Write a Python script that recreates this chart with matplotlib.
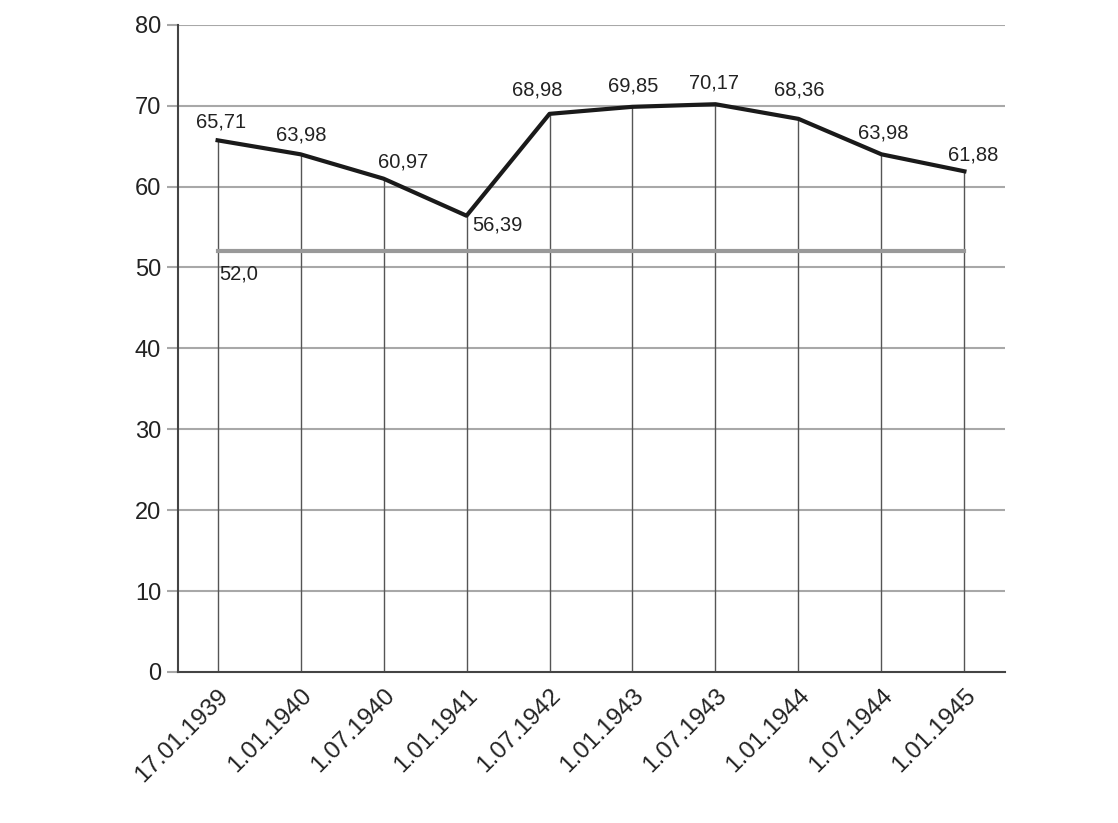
import matplotlib.pyplot as plt

plt.rcParams['font.family'] = ['Liberation Sans', 'DejaVu Sans']

# ---------- data ----------
dates = ["17.01.1939", "1.01.1940", "1.07.1940", "1.01.1941", "1.07.1942",
         "1.01.1943", "1.07.1943", "1.01.1944", "1.07.1944", "1.01.1945"]
values = [65.71, 63.98, 60.97, 56.39, 68.98, 69.85, 70.17, 68.36, 63.98, 61.88]
level = 52.0

# label offsets in pixels (dx, dy) relative to each point
offsets = [(3, 9), (1, 10), (20, 7), (31, -19), (-12, 14),
           (1, 11), (-1, 12), (1, 19), (2, 12), (9, 7)]

# ---------- plot ----------
fig = plt.figure(figsize=(11.18, 8.23), dpi=100)
ax = fig.add_axes([0.159, 0.1835, 0.740, 0.7865])

x = list(range(len(dates)))

# horizontal grid
for yv in range(10, 81, 10):
    ax.axhline(yv, color="#a8a8a8", lw=1.5, zorder=1)

# drop lines from 0 to each point
ax.vlines(x, 0, values, color="#555555", lw=1.0, zorder=2)

# reference level
ax.plot([x[0], x[-1]], [level, level], color="#999999", lw=3, zorder=3)
ax.annotate(f"{level:.1f}".replace(".", ","), (x[0], level),
            xytext=(2 * 0.72, -13 * 0.72), textcoords="offset points",
            ha="left", va="top", fontsize=14.5, color="#222222")

# main line
ax.plot(x, values, color="#1a1a1a", lw=3, zorder=4, solid_joinstyle="round")

for xi, v, (dx, dy) in zip(x, values, offsets):
    ax.annotate(f"{v:.2f}".replace(".", ","), (xi, v),
                xytext=(dx * 0.72, dy * 0.72), textcoords="offset points",
                ha="center", va="bottom", fontsize=14.5, color="#222222")

ax.set_xlim(-0.48, 9.49)
ax.set_ylim(0, 80)
ax.set_yticks(range(0, 81, 10))
ax.set_xticks(x)
ax.set_xticklabels(dates, rotation=45, ha="right", va="top",
                   rotation_mode="anchor", fontsize=17.5, color="#222222")
ax.tick_params(axis="x", length=0, pad=9)
ax.tick_params(axis="y", length=8, width=1.5, color="#a8a8a8",
               labelsize=17, labelcolor="#222222", pad=4)

for side in ["top", "right"]:
    ax.spines[side].set_visible(False)
ax.spines["left"].set_color("#444444")
ax.spines["bottom"].set_color("#444444")
ax.spines["left"].set_linewidth(1.5)
ax.spines["bottom"].set_linewidth(1.5)

fig.savefig("out.png", dpi=100)
